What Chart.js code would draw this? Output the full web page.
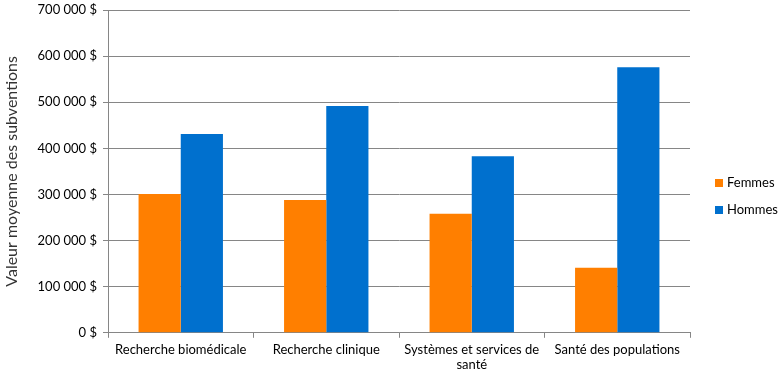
<!DOCTYPE html>
<html>
<head>
<meta charset="utf-8">
<script src="https://cdn.jsdelivr.net/npm/chart.js@4"></script>
<style>
  html, body { margin: 0; padding: 0; background: #fff; }
  #wrap { width: 783px; height: 384px; }
</style>
</head>
<body>
<div id="wrap"><canvas id="chart" width="783" height="384"></canvas></div>
<script>
// données
const categories = ['Recherche biomédicale', 'Recherche clinique', ['Systèmes et services de', 'santé'], 'Santé des populations'];
const femmes = [301000, 288000, 258000, 141000];
const hommes = [431000, 492000, 383000, 576000];
const yTicks = [0, 100000, 200000, 300000, 400000, 500000, 600000, 700000];

const gridColor = '#868686';
const fmt = v => String(v).replace(/\B(?=(\d{3})+(?!\d))/g, ' ') + ' $';

// légende à droite, dessinée à partir des datasets
const sideLegend = {
    id: 'sideLegend',
    afterDraw(chart) {
        const c = chart.ctx;
        const x = chart.chartArea.right + 25;
        c.save();
        c.font = '13px Lato';
        c.textBaseline = 'middle';
        chart.data.datasets.forEach((ds, i) => {
            const y = 183 + i * 27;
            c.fillStyle = ds.backgroundColor;
            c.fillRect(x, y - 4, 8, 8);
            c.fillStyle = '#000';
            c.fillText(ds.label, x + 12, y);
        });
        c.restore();
    }
};

const ctx = document.getElementById('chart').getContext('2d');
new Chart(ctx, {
    type: 'bar',
    data: {
        labels: categories,
        datasets: [
            { label: 'Femmes', data: femmes, backgroundColor: '#FF7F00' },
            { label: 'Hommes', data: hommes, backgroundColor: '#0070CE' }
        ]
    },
    plugins: [sideLegend],
    options: {
        responsive: false,
        animation: false,
        layout: { padding: { top: 0, right: 93, bottom: 7, left: 0 } },
        datasets: { bar: { categoryPercentage: 0.58, barPercentage: 1 } },
        plugins: {
            tooltip: { enabled: false },
            legend: { display: false }
        },
        scales: {
            x: {
                grid: { drawOnChartArea: false, color: gridColor, tickLength: 5 },
                border: { color: gridColor },
                ticks: { font: { family: 'Lato', size: 13 }, color: '#000', maxRotation: 0, autoSkip: false, padding: 4 }
            },
            y: {
                min: 0,
                max: 700000,
                afterFit: s => { s.width = 108; s.paddingTop = 10; },
                afterBuildTicks: s => { s.ticks = yTicks.map(v => ({ value: v })); },
                grid: { color: gridColor, tickLength: 5 },
                border: { color: gridColor },
                ticks: { font: { family: 'Lato', size: 13 }, color: '#000', padding: 6, callback: v => fmt(v) },
                title: {
                    display: true,
                    text: 'Valeur moyenne des subventions',
                    font: { family: 'Lato', size: 16 },
                    color: '#333',
                    padding: { top: 2, bottom: 0 }
                }
            }
        }
    }
});
</script>
</body>
</html>
